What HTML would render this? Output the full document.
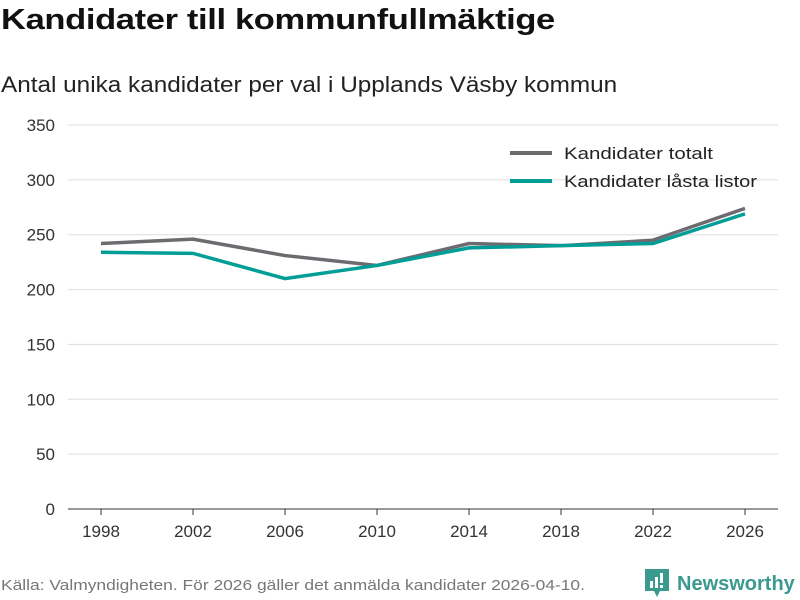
<!DOCTYPE html>
<html><head><meta charset="utf-8"><style>
body{margin:0;width:800px;height:600px;background:#fff;font-family:"Liberation Sans",sans-serif;overflow:hidden;position:relative}
#title{position:absolute;left:1px;top:4px;font-size:29px;font-weight:bold;color:#111;letter-spacing:-0.3px;transform:scaleX(1.19);transform-origin:0 0;white-space:nowrap}
#sub{position:absolute;left:1px;top:72px;font-size:22px;color:#222;transform:scaleX(1.105);transform-origin:0 0;white-space:nowrap}
#src{position:absolute;left:1px;top:577px;font-size:15px;color:#777;transform:scaleX(1.16);transform-origin:0 0;white-space:nowrap}
#logo{position:absolute;left:645px;top:569px;display:flex;align-items:center;color:#3a9a8f;font-size:20px;font-weight:bold}
</style></head><body>
<div id="title">Kandidater till kommunfullmäktige</div>
<div id="sub">Antal unika kandidater per val i Upplands Väsby kommun</div>
<svg id="chart" width="800" height="600" style="position:absolute;left:0;top:0"></svg>
<div id="src">Källa: Valmyndigheten. För 2026 gäller det anmälda kandidater 2026-04-10.</div>
<div id="logo"><svg width="24" height="30" viewBox="0 0 24 30" style="margin-right:8px"><path d="M0 0H24V22H15L12 28L9 22H0Z" fill="#3a9a8f"/><rect x="5" y="12" width="3" height="7" fill="#fff"/><rect x="10" y="8" width="3" height="11" fill="#fff"/><rect x="15" y="4" width="3" height="10" fill="#fff"/><rect x="15" y="16" width="3" height="3" fill="#fff"/></svg>Newsworthy</div>
<script>
const years=[1998,2002,2006,2010,2014,2018,2022,2026];
const totalt=[242,246,231,222,242,240,245,274];
const lasta=[234,233,210,222,238,240,242,269];
const yTicks=[0,50,100,150,200,250,300,350];
const svg=document.getElementById('chart');
const NS='http://www.w3.org/2000/svg';
const x=v=>101+(v-1998)/28*644;
const y=v=>509-v/350*384;
function mk(t,a){const e=document.createElementNS(NS,t);for(const k in a)e.setAttribute(k,a[k]);svg.appendChild(e);return e;}
yTicks.forEach(t=>{
 const l=mk('line',{x1:68,x2:778,y1:y(t),y2:y(t),stroke:t===0?'#333':'#ddd','stroke-width':1});
 
 
 const tx=mk('text',{x:55,y:y(t)+6,'text-anchor':'end','font-size':17,fill:'#333'});
 tx.textContent=t;
 
 
});
years.forEach(yr=>{
 const l=mk('line',{x1:x(yr),x2:x(yr),y1:509,y2:515,stroke:'#333'});
 
 
 const tx=mk('text',{x:x(yr),y:537,'text-anchor':'middle','font-size':17,fill:'#333'});
 tx.textContent=yr;
 
 
});
function line(vals,color,name){
 const p=mk('polyline',{points:vals.map((v,i)=>x(years[i])+','+y(v)).join(' '),fill:'none',stroke:color,'stroke-width':3.5});
 
 
}
line(totalt,'#6d6b70','line-kandidater-totalt');
line(lasta,'#009e96','line-kandidater-lasta-listor');
[['Kandidater totalt','#6d6b70',153,149],['Kandidater låsta listor','#009e96',181,193]].forEach(([t,c,yy,w])=>{
 const l=mk('line',{x1:510,x2:552,y1:yy,y2:yy,stroke:c,'stroke-width':4});
 
 
 const tx=mk('text',{x:564,y:yy+6,'font-size':17,fill:'#222',textLength:w,lengthAdjust:'spacingAndGlyphs'});
 tx.textContent=t;
 
 
});
</script>
</body></html>
